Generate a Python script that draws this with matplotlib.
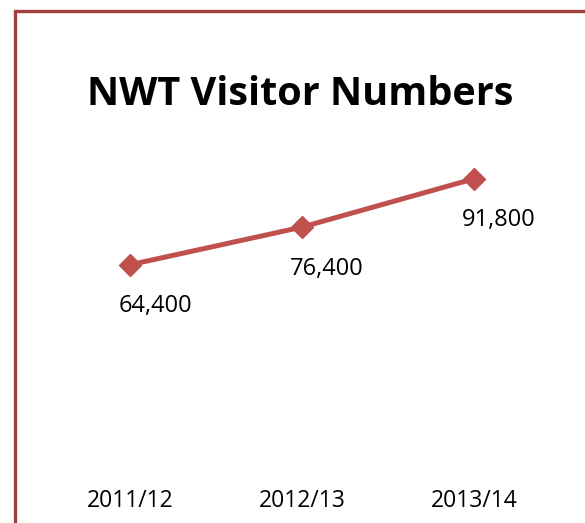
import matplotlib.pyplot as plt
from matplotlib.patches import Rectangle

# data
years = ["2011/12", "2012/13", "2013/14"]
visitors = [64400, 76400, 91800]

W, H = 585, 523
fig = plt.figure(figsize=(W / 100, H / 100), dpi=100)
plt.rcParams['font.family'] = ['Open Sans', 'DejaVu Sans']

# chart border (cut off on right and bottom)
fig.patches.append(Rectangle((14.5 / W, -0.1), 1.2, (H - 11.5) / H + 0.1,
                             transform=fig.transFigure, fill=False,
                             edgecolor='#A3403E', linewidth=2.4))

ax = fig.add_axes([44 / W, 56 / H, 516 / W, 314 / H])
x = range(len(years))
ax.plot(x, visitors, color='#C0504D', linewidth=3.6, marker='D',
        markersize=11, markeredgecolor='#C0504D', markerfacecolor='#C0504D')

for i, v in zip(x, visitors):
    ax.annotate(f"{v:,}", (i, v), xytext=(18, -30), textcoords='offset points',
                ha='center', va='center', fontsize=17)

ax.set_xlim(-0.5, 2.5)
ax.set_ylim(0, 100000)
ax.set_xticks(list(x))
ax.set_xticklabels(years, fontsize=16.5)
ax.tick_params(axis='x', length=0, pad=16)
ax.set_yticks([])
for s in ax.spines.values():
    s.set_visible(False)

fig.text(300 / W, 1 - 95 / H, "NWT Visitor Numbers", ha='center', va='center',
         fontsize=28.5, fontweight='bold')

fig.savefig('out.png', dpi=100)
